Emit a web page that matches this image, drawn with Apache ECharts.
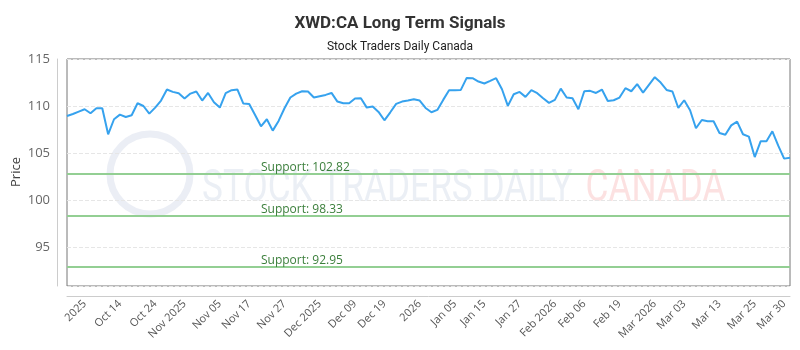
<!DOCTYPE html>
<html style="height: 100%">
    <head>
        <title>XWD:CA Long Term Signals</title>
        <script type="text/javascript" src="https://cdn.jsdelivr.net/npm/echarts@6/dist/echarts.min.js"></script>
    </head>
    <body style="height: 100%; margin: 0">
        <div id="target" style="width: 800px; height: 350px"></div>
<script>

// daily closes
const prices = [
    108.94, 109.15, 109.40, 109.65, 109.23, 109.76, 109.76, 106.99, 108.59, 109.08,
    108.83, 109.01, 110.29, 110.00, 109.19, 109.83, 110.58, 111.75, 111.50, 111.36,
    110.79, 111.32, 111.54, 110.58, 111.39, 110.40, 109.83, 111.36, 111.68, 111.75,
    110.26, 110.22, 109.04, 107.84, 108.59, 107.38, 108.41, 109.76, 110.90, 111.32,
    111.57, 111.54, 110.90, 111.04, 111.18, 111.39, 110.47, 110.29, 110.29, 110.79,
    110.82, 109.83, 109.94, 109.37, 108.48, 109.33, 110.22, 110.47, 110.58, 110.72,
    110.58, 109.79, 109.33, 109.58, 110.65, 111.68, 111.68, 111.71, 112.99, 112.96,
    112.60, 112.39, 112.67, 112.96, 111.78, 110.01, 111.25, 111.50, 110.97, 111.68,
    111.36, 110.82, 110.33, 110.65, 111.85, 110.90, 110.82, 109.65, 111.57, 111.61,
    111.39, 111.75, 110.54, 110.61, 110.90, 111.89, 111.57, 112.32, 111.43, 112.25,
    113.06, 112.49, 111.71, 111.54, 109.79, 110.61, 109.55, 107.63, 108.51, 108.37,
    108.37, 107.13, 106.95, 107.94, 108.34, 106.99, 106.74, 104.57, 106.24, 106.24,
    107.31, 105.78, 104.40, 104.50
];

// x tick labels and the data index each sits on
const tickLabels = [
    "2025", "Oct 14", "Oct 24", "Nov 2025", "Nov 05", "Nov 17", "Nov 27", "Dec 2025",
    "Dec 09", "Dec 19", "2026", "Jan 05", "Jan 15", "Jan 27", "Feb 2026", "Feb 06",
    "Feb 19", "Mar 2026", "Mar 03", "Mar 13", "Mar 25", "Mar 30"
];
const tickAt = [3, 9, 15, 20, 26, 31, 37, 43, 49, 54, 60, 66, 71, 77, 83, 88, 94, 100, 105, 111, 117, 122];

const supports = [102.82, 98.33, 92.95];

let categories = prices.map((p, i) => {
    let k = tickAt.indexOf(i);
    return k >= 0 ? tickLabels[k] : "";
});

let chart = echarts.init(document.getElementById('target'));

let option = {
    animation: false,
    title: [
        {
            text: "XWD:CA Long Term Signals",
            left: "center",
            top: 5,
            textStyle: {
                fontFamily: "Roboto, sans-serif",
                fontSize: 17,
                fontWeight: "bold",
                color: "#333",
            },
        },
        {
            text: "Stock Traders Daily Canada",
            left: "center",
            top: 32,
            textStyle: {
                fontFamily: "Roboto, sans-serif",
                fontSize: 12,
                fontWeight: "normal",
                color: "#222",
            },
        },
    ],
    graphic: [
        // faint watermark behind the plot
        {
            type: "circle",
            z: 0,
            shape: { cx: 150, cy: 174, r: 40 },
            style: { fill: "none", stroke: "rgba(215,222,235,0.5)", lineWidth: 7 },
        },
        {
            type: "text",
            z: 0,
            x: 202,
            y: 152,
            scaleX: 0.8,
            style: {
                text: "{a|STOCK TRADERS DAILY}{s| }{b|CANADA}",
                rich: {
                    a: { fontSize: 44, fontFamily: "Roboto, sans-serif", fill: "rgba(205,214,230,0.4)" },
                    s: { fontSize: 44, width: 16 },
                    b: { fontSize: 44, fontFamily: "Roboto, sans-serif", fill: "rgba(245,170,170,0.35)" },
                },
            },
        },
        // y axis title
        {
            type: "text",
            x: 16,
            y: 172,
            rotation: Math.PI / 2,
            style: {
                text: "Price",
                fontSize: 13,
                fontFamily: "'Open Sans', sans-serif",
                fill: "#444",
                align: "center",
                verticalAlign: "middle",
            },
        },
    ],
    grid: {
        left: 67,
        right: 10,
        top: 59,
        bottom: 64,
        outerBoundsMode: "none",
        containLabel: false,
        show: true,
        borderColor: "#777",
        borderWidth: 1,
    },
    xAxis: {
        type: "category",
        data: categories,
        boundaryGap: false,
        offset: 10,
        axisLine: { lineStyle: { color: "#ccc" } },
        axisTick: { show: false },
        axisLabel: {
            interval: 0,
            rotate: 45,
            fontSize: 11,
            fontFamily: "'Open Sans', sans-serif",
            color: "#555",
            margin: 6,
        },
    },
    yAxis: {
        type: "value",
        min: 90.85,
        max: 115,
        splitNumber: 5,
        offset: 10,
        axisLine: { show: true, lineStyle: { color: "#ccc" } },
        axisTick: { show: false },
        axisLabel: {
            showMinLabel: false,
            fontSize: 13,
            fontFamily: "'Open Sans', sans-serif",
            color: "#666",
            margin: 7,
        },
        splitLine: { lineStyle: { color: "#e6e6e6", type: "dashed" } },
    },
    series: [
        {
            name: "Price",
            type: "line",
            data: prices,
            symbol: "none",
            lineStyle: { color: "#36a2ee", width: 2 },
            z: 3,
            markLine: {
                silent: true,
                symbol: "none",
                lineStyle: { color: "#93cf93", width: 2, type: "solid" },
                label: {
                    position: "insideStartTop",
                    distance: [194, -4],
                    fontSize: 12,
                    fontFamily: "'Open Sans', sans-serif",
                    color: "#3b7f3b",
                    formatter: p => "Support: " + p.value,
                },
                data: supports.map(v => ({ yAxis: v })),
            },
        },
    ],
};

chart.setOption(option);

</script>
    </body>
</html>
